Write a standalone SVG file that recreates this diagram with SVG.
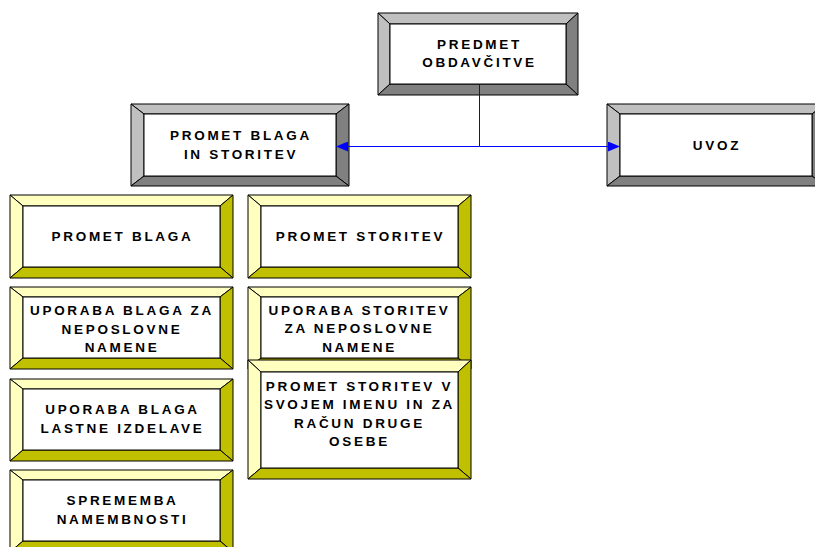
<svg xmlns="http://www.w3.org/2000/svg" width="815" height="547" viewBox="0 0 815 547">
<defs>
<style>
.bg{fill:#ffffff}
.face{fill:#ffffff;stroke:#000;stroke-width:1}
.gl{fill:#c0c0c0;stroke:#000;stroke-width:1;stroke-linejoin:miter}
.gd{fill:#808080;stroke:#000;stroke-width:1}
.yl{fill:#ffffc0;stroke:#000;stroke-width:1}
.yd{fill:#c0c000;stroke:#000;stroke-width:1}
.t{font-family:"Liberation Sans",Arial,sans-serif;font-weight:bold;font-size:13.5px;letter-spacing:2.7px;fill:#000;text-anchor:middle}
.con{stroke:#0000ff;stroke-width:1;fill:none}
</style>
<marker id="ah" viewBox="0 0 12 10" refX="12" refY="5" markerWidth="12" markerHeight="10" markerUnits="userSpaceOnUse" orient="auto">
<path d="M0,0 L12,5 L0,10 Z" fill="#0000ff"/>
</marker>
</defs>
<rect class="bg" x="0" y="0" width="815" height="547"/>

<g id="predmet">
<polygon class="gl" points="378,13 578,13 566,24 390,24"/>
<polygon class="gl" points="378,13 390,24 390,84 378,95"/>
<polygon class="gd" points="578,13 578,95 566,84 566,24"/>
<polygon class="gd" points="378,95 390,84 566,84 578,95"/>
<rect class="face" x="390" y="24" width="176" height="60"/>
<text class="t" x="479.5" y="49">PREDMET</text>
<text class="t" x="479.5" y="67.3">OBDAVČITVE</text>
</g>

<g id="promet-blaga-in-storitev">
<polygon class="gl" points="131,104 349,104 336,114 144,114"/>
<polygon class="gl" points="131,104 144,114 144,176 131,186"/>
<polygon class="gd" points="349,104 349,186 336,176 336,114"/>
<polygon class="gd" points="131,186 144,176 336,176 349,186"/>
<rect class="face" x="144" y="114" width="192" height="62"/>
<text class="t" x="241" y="139.5">PROMET BLAGA</text>
<text class="t" x="241" y="158.5">IN STORITEV</text>
</g>

<g id="uvoz">
<polygon class="gl" points="607,104 825,104 812,114 620,114"/>
<polygon class="gl" points="607,104 620,114 620,176 607,186"/>
<polygon class="gd" points="825,104 825,186 812,176 812,114"/>
<polygon class="gd" points="607,186 620,176 812,176 825,186"/>
<rect class="face" x="620" y="114" width="192" height="62"/>
<text class="t" x="717" y="149.5">UVOZ</text>
</g>

<g id="promet-blaga">
<polygon class="yl" points="10,195 233,195 220,206 23,206"/>
<polygon class="yl" points="10,195 23,206 23,267 10,278"/>
<polygon class="yd" points="233,195 233,278 220,267 220,206"/>
<polygon class="yd" points="10,278 23,267 220,267 233,278"/>
<rect class="face" x="23" y="206" width="197" height="61"/>
<text class="t" x="122.5" y="241">PROMET BLAGA</text>
</g>

<g id="promet-storitev">
<polygon class="yl" points="248,195 471,195 458,206 261,206"/>
<polygon class="yl" points="248,195 261,206 261,267 248,278"/>
<polygon class="yd" points="471,195 471,278 458,267 458,206"/>
<polygon class="yd" points="248,278 261,267 458,267 471,278"/>
<rect class="face" x="261" y="206" width="197" height="61"/>
<text class="t" x="360.5" y="241">PROMET STORITEV</text>
</g>

<g id="uporaba-blaga-za-neposlovne-namene">
<polygon class="yl" points="10,287 233,287 220,297 23,297"/>
<polygon class="yl" points="10,287 23,297 23,358 10,369"/>
<polygon class="yd" points="233,287 233,369 220,358 220,297"/>
<polygon class="yd" points="10,369 23,358 220,358 233,369"/>
<rect class="face" x="23" y="297" width="197" height="61"/>
<text class="t" x="122" y="315">UPORABA BLAGA ZA</text>
<text class="t" x="122" y="333.5">NEPOSLOVNE</text>
<text class="t" x="122" y="352">NAMENE</text>
</g>

<g id="uporaba-storitev-za-neposlovne-namene">
<polygon class="yl" points="248,287 471,287 458,297 261,297"/>
<polygon class="yl" points="248,287 261,297 261,358 248,369"/>
<polygon class="yd" points="471,287 471,369 458,358 458,297"/>
<polygon class="yd" points="248,369 261,358 458,358 471,369"/>
<rect class="face" x="261" y="297" width="197" height="61"/>
<text class="t" x="359.5" y="314.5">UPORABA STORITEV</text>
<text class="t" x="359.5" y="333.3">ZA NEPOSLOVNE</text>
<text class="t" x="359.5" y="351.7">NAMENE</text>
</g>

<g id="promet-storitev-v-svojem-imenu">
<polygon class="yl" points="248,360 471,360 458,372 261,372"/>
<polygon class="yl" points="248,360 261,372 261,468 248,479"/>
<polygon class="yd" points="471,360 471,479 458,468 458,372"/>
<polygon class="yd" points="248,479 261,468 458,468 471,479"/>
<rect class="face" x="261" y="372" width="197" height="96"/>
<text class="t" x="359.5" y="391">PROMET STORITEV V</text>
<text class="t" x="359.5" y="409.3">SVOJEM IMENU IN ZA</text>
<text class="t" x="359.5" y="427.7">RAČUN DRUGE</text>
<text class="t" x="359.5" y="446">OSEBE</text>
</g>

<g id="uporaba-blaga-lastne-izdelave">
<polygon class="yl" points="10,379 233,379 220,389 23,389"/>
<polygon class="yl" points="10,379 23,389 23,450 10,461"/>
<polygon class="yd" points="233,379 233,461 220,450 220,389"/>
<polygon class="yd" points="10,461 23,450 220,450 233,461"/>
<rect class="face" x="23" y="389" width="197" height="61"/>
<text class="t" x="122.5" y="414">UPORABA BLAGA</text>
<text class="t" x="122.5" y="433">LASTNE IZDELAVE</text>
</g>

<g id="sprememba-namembnosti">
<polygon class="yl" points="10,470 233,470 220,480 23,480"/>
<polygon class="yl" points="10,470 23,480 23,541 10,552"/>
<polygon class="yd" points="233,470 233,552 220,541 220,480"/>
<polygon class="yd" points="10,552 23,541 220,541 233,552"/>
<rect class="face" x="23" y="480" width="197" height="61"/>
<text class="t" x="122.5" y="505">SPREMEMBA</text>
<text class="t" x="122.5" y="523.7">NAMEMBNOSTI</text>
</g>

<g id="connectors">
<line class="con" x1="479.5" y1="84" x2="479.5" y2="146.5"/>
<line class="con" x1="479.5" y1="146.5" x2="336" y2="146.5" marker-end="url(#ah)"/>
<line class="con" x1="479.5" y1="146.5" x2="620" y2="146.5" marker-end="url(#ah)"/>
</g>
</svg>
